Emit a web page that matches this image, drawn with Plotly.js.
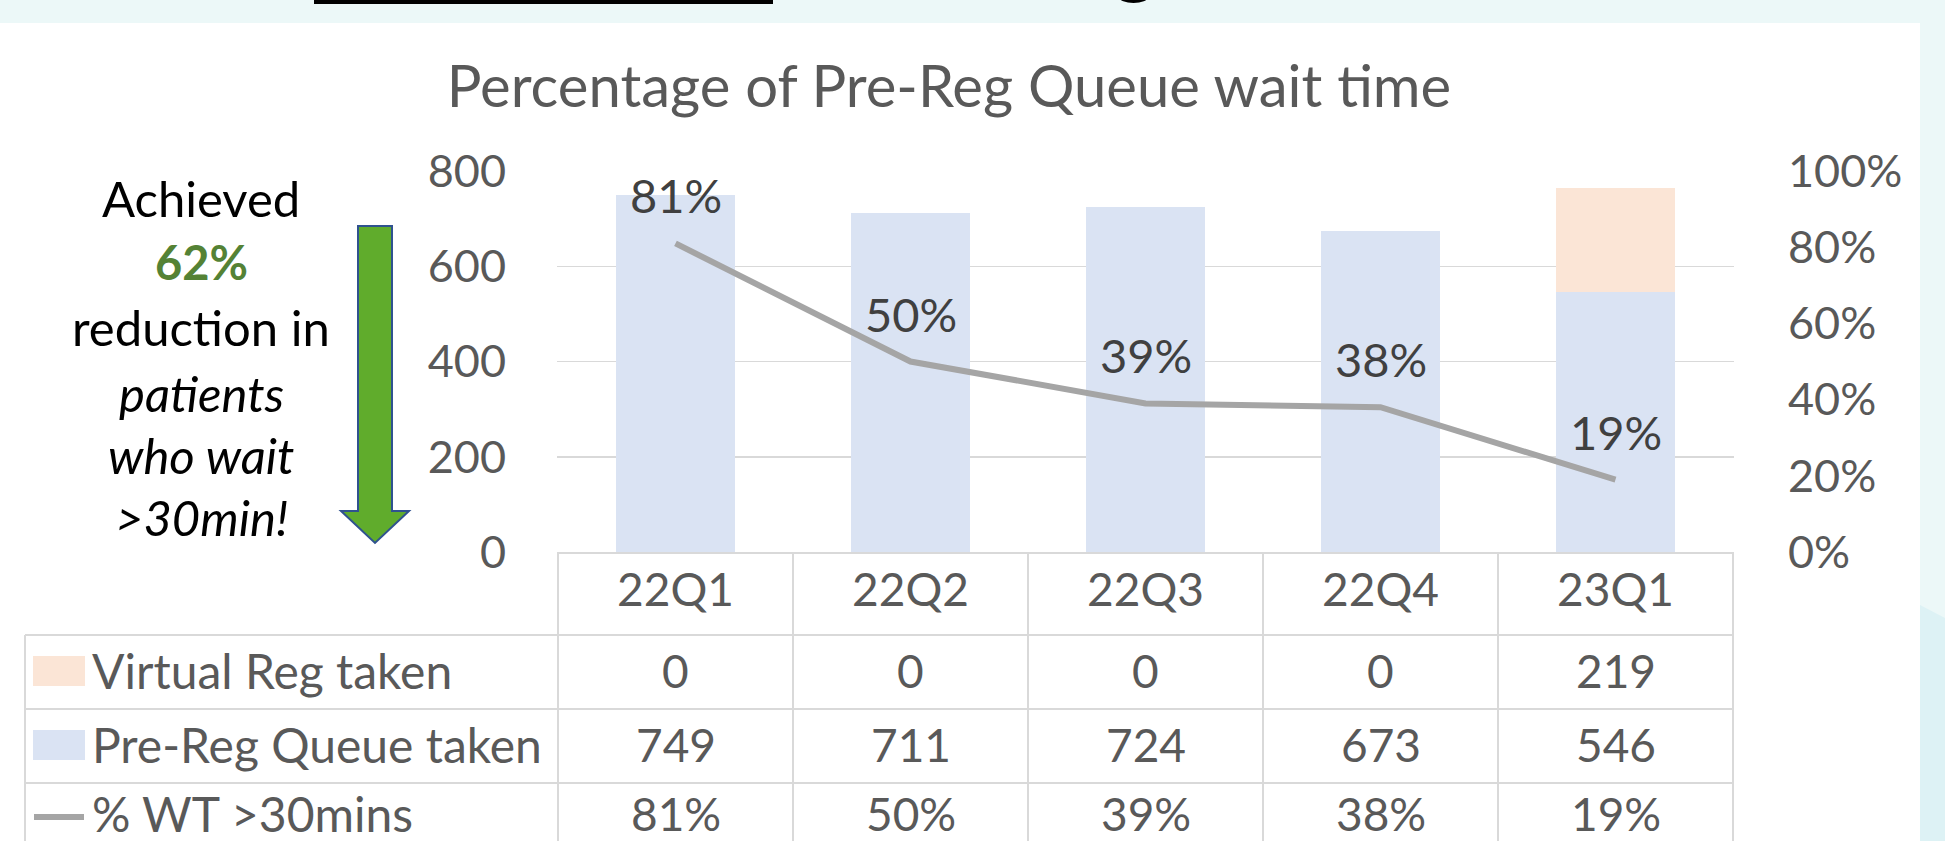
<!DOCTYPE html>
<html>
<head>
<meta charset="utf-8">
<script src="https://cdn.plot.ly/plotly-3.0.1.min.js"></script>
<style>
  html, body { margin: 0; padding: 0; background: #ECF8F8; }
  #chart { width: 1945px; height: 841px; }
</style>
</head>
<body>
<div id="chart"></div>
<script>
// ---- data ----
const categories = ['22Q1', '22Q2', '22Q3', '22Q4', '23Q1'];
const virtualReg = [0, 0, 0, 0, 219];
const preRegQueue = [749, 711, 724, 673, 546];
const pctWaitOver30 = [0.81, 0.50, 0.39, 0.38, 0.19];
const leftTicks = [0, 200, 400, 600, 800];
const rightTicks = [0, 0.2, 0.4, 0.6, 0.8, 1.0];
const rowLabels = ['Virtual Reg taken', 'Pre-Reg Queue taken', '% WT >30mins'];
const calloutLines = ['Achieved', '62%', 'reduction in', 'patients', 'who wait', '>30min!'];

// ---- layout geometry (pixels) ----
const W = 1945, H = 841;
const L = 557, R = 1734, T = 171, B = 552;
const px2x = p => (p - L) / (R - L);
const py2y = p => (B - p) / (B - T);

const FONT = 'Lato, "Open Sans", sans-serif';
const GREY_TXT = '#595959';
const DARK_TXT = '#404040';
const GRID = '#D9D9D9';
const BLUE = '#DAE3F3';
const ORANGE = '#FBE5D6';
const LINE = '#A5A5A5';

const traces = [
  {
    type: 'bar', name: 'Pre-Reg Queue taken', x: categories, y: preRegQueue,
    marker: { color: BLUE }, hoverinfo: 'skip'
  },
  {
    type: 'bar', name: 'Virtual Reg taken', x: categories, y: virtualReg,
    marker: { color: ORANGE }, hoverinfo: 'skip'
  },
  {
    type: 'scatter', mode: 'lines', name: '% WT >30mins', x: categories, y: pctWaitOver30,
    yaxis: 'y2', line: { color: LINE, width: 6 }, hoverinfo: 'skip'
  }
];

const shapes = [];
const annotations = [];

// slide background pieces
shapes.push({ type: 'rect', xref: 'paper', yref: 'paper', layer: 'below',
  x0: px2x(0), x1: px2x(1920), y0: py2y(23), y1: py2y(H + 20),
  fillcolor: '#FFFFFF', line: { width: 0 } });
shapes.push({ type: 'path', xref: 'paper', yref: 'paper', layer: 'below',
  path: `M ${px2x(1920)},${py2y(605)} L ${px2x(1945)},${py2y(618)} L ${px2x(1945)},${py2y(H + 20)} L ${px2x(1920)},${py2y(H + 20)} Z`,
  fillcolor: '#DDF2F5', line: { width: 0 } });
shapes.push({ type: 'rect', xref: 'paper', yref: 'paper', layer: 'above',
  x0: px2x(314), x1: px2x(773), y0: py2y(4), y1: py2y(-10),
  fillcolor: '#000000', line: { width: 0 } });
shapes.push({ type: 'circle', xref: 'paper', yref: 'paper', layer: 'above',
  x0: px2x(1119), x1: px2x(1148), y0: py2y(3), y1: py2y(-9),
  fillcolor: '#000000', line: { width: 0 } });

// green arrow
shapes.push({ type: 'path', xref: 'paper', yref: 'paper', layer: 'above',
  path: `M ${px2x(358)},${py2y(226)} L ${px2x(392)},${py2y(226)} L ${px2x(392)},${py2y(511)} L ${px2x(409)},${py2y(511)} L ${px2x(375)},${py2y(543)} L ${px2x(341)},${py2y(511)} L ${px2x(358)},${py2y(511)} Z`,
  fillcolor: '#60AC2C', line: { color: '#2F528F', width: 2 } });

// data table grid
const tableBottom = H + 20;
const rowLines = [635, 709, 783];
const rowCenters = [670, 745, 813];
for (let i = 0; i <= categories.length; i++) {
  shapes.push({ type: 'line', xref: 'x', yref: 'paper', layer: 'above',
    x0: i - 0.5, x1: i - 0.5, y0: py2y(B), y1: py2y(tableBottom),
    line: { color: GRID, width: 2 } });
}
shapes.push({ type: 'line', xref: 'paper', yref: 'paper', layer: 'above',
  x0: px2x(25), x1: px2x(25), y0: py2y(635), y1: py2y(tableBottom),
  line: { color: GRID, width: 2 } });
rowLines.forEach(yy => {
  shapes.push({ type: 'line', xref: 'paper', yref: 'paper', layer: 'above',
    x0: px2x(25), x1: 1, y0: py2y(yy), y1: py2y(yy),
    line: { color: GRID, width: 2 } });
});

// legend keys in the table
shapes.push({ type: 'rect', xref: 'paper', yref: 'paper', layer: 'above',
  x0: px2x(33), x1: px2x(85), y0: py2y(656), y1: py2y(686),
  fillcolor: ORANGE, line: { width: 0 } });
shapes.push({ type: 'rect', xref: 'paper', yref: 'paper', layer: 'above',
  x0: px2x(33), x1: px2x(85), y0: py2y(730), y1: py2y(760),
  fillcolor: BLUE, line: { width: 0 } });
shapes.push({ type: 'line', xref: 'paper', yref: 'paper', layer: 'above',
  x0: px2x(34), x1: px2x(84), y0: py2y(817), y1: py2y(817),
  line: { color: LINE, width: 6 } });

rowLabels.forEach((lab, r) => {
  annotations.push({ xref: 'paper', yref: 'paper', x: px2x(90), y: py2y(rowCenters[r]),
    xanchor: 'left', yanchor: 'middle', text: lab.replace('>', '&gt;'), showarrow: false,
    font: { family: FONT, size: 48, color: GREY_TXT } });
});

const rows = [
  virtualReg.map(v => String(v)),
  preRegQueue.map(v => String(v)),
  pctWaitOver30.map(v => Math.round(v * 100) + '%')
];
rows.forEach((vals, r) => {
  vals.forEach((t, i) => {
    annotations.push({ xref: 'x', yref: 'paper', x: categories[i], y: py2y(rowCenters[r]),
      xanchor: 'center', yanchor: 'middle', text: t, showarrow: false,
      font: { family: FONT, size: 46, color: GREY_TXT } });
  });
});

// line data labels
pctWaitOver30.forEach((v, i) => {
  annotations.push({ xref: 'x', yref: 'y2', x: categories[i], y: v, yshift: 48,
    xanchor: 'center', yanchor: 'middle', text: Math.round(v * 100) + '%', showarrow: false,
    font: { family: FONT, size: 47, color: DARK_TXT } });
});

// callout text
const calloutY = [198, 262, 327, 393, 455, 517];
calloutLines.forEach((t, k) => {
  let txt = t, col = '#000000', sz = 49;
  if (k === 1) { txt = '<b>' + t + '</b>'; col = '#548235'; sz = 47; }
  if (k >= 3) { txt = '<i>' + t.replace('>', '&gt;') + '</i>'; }
  annotations.push({ xref: 'paper', yref: 'paper', x: px2x(201), y: py2y(calloutY[k]),
    xanchor: 'center', yanchor: 'middle', text: txt, showarrow: false,
    font: { family: FONT, size: sz, color: col } });
});

const layout = {
  width: W, height: H,
  margin: { l: L, r: W - R, t: T, b: H - B, pad: 0 },
  paper_bgcolor: '#ECF8F8',
  plot_bgcolor: '#FFFFFF',
  showlegend: false,
  hovermode: false,
  barmode: 'stack',
  bargap: 0.49,
  title: {
    text: 'Percentage of Pre-Reg Queue wait time',
    font: { family: FONT, size: 58, color: GREY_TXT },
    xref: 'container', yref: 'container', x: 949 / W, y: 1 - 87 / H,
    xanchor: 'center', yanchor: 'middle'
  },
  xaxis: {
    type: 'category', categoryorder: 'array', categoryarray: categories,
    showgrid: false, zeroline: false, showline: true, linecolor: GRID, linewidth: 2,
    ticks: '', ticklabelstandoff: -3,
    tickfont: { family: FONT, size: 46, color: GREY_TXT },
    fixedrange: true
  },
  yaxis: {
    range: [0, 800], tickvals: leftTicks, ticktext: leftTicks.map(String),
    showgrid: true, gridcolor: GRID, gridwidth: 1.5, zeroline: false, showline: false,
    ticks: '', ticklabelstandoff: 50,
    tickfont: { family: FONT, size: 45, color: GREY_TXT },
    fixedrange: true
  },
  yaxis2: {
    range: [0, 1], overlaying: 'y', side: 'right', tickvals: rightTicks,
    ticktext: rightTicks.map(v => Math.round(v * 100) + '%'),
    showgrid: false, zeroline: false, showline: false,
    ticks: '', ticklabelstandoff: 53,
    tickfont: { family: FONT, size: 45, color: GREY_TXT },
    fixedrange: true
  },
  shapes: shapes,
  annotations: annotations
};

Plotly.newPlot('chart', traces, layout, { displayModeBar: false, staticPlot: true });
</script>
</body>
</html>
